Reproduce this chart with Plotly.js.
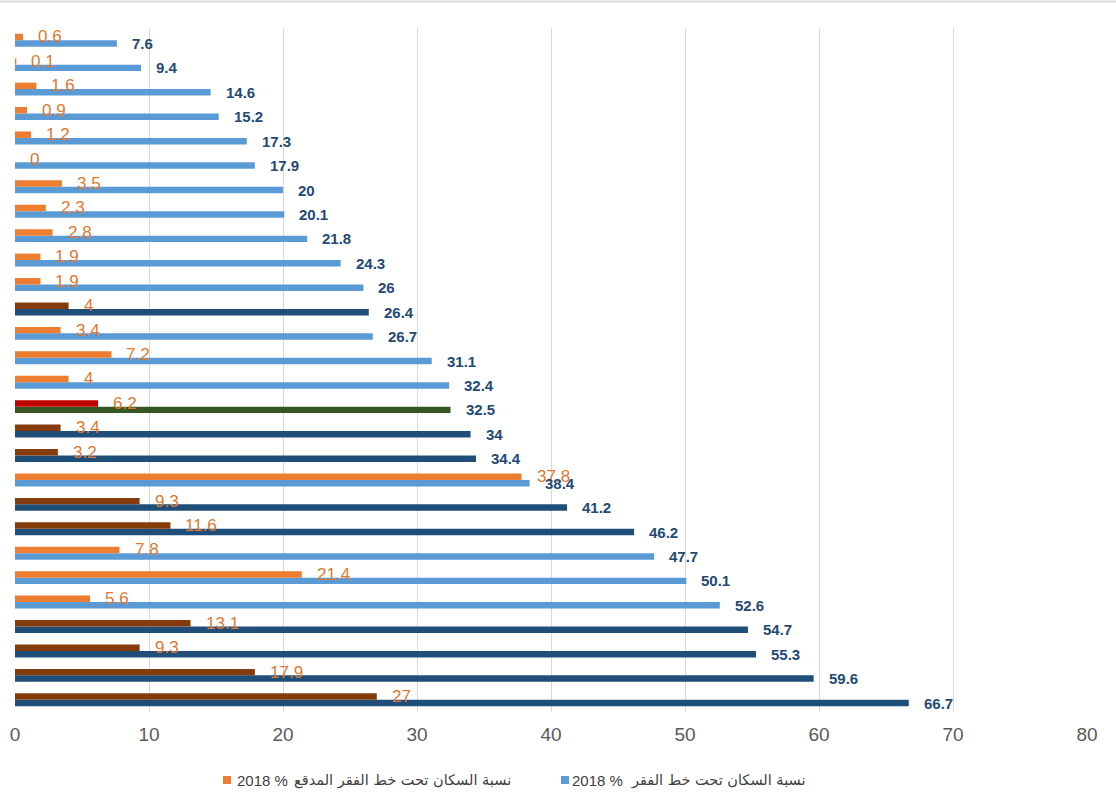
<!DOCTYPE html>
<html>
<head>
<meta charset="utf-8">
<script src="https://cdn.plot.ly/plotly-3.0.1.min.js"></script>
<style>html,body{margin:0;padding:0;background:#fff}</style>
</head>
<body>
<div id="chart" style="width:1116px;height:811px"></div>
<script>
// Rows listed from top of the chart to bottom (no row labels are shown in the chart)
const rowIds = ['r1','r2','r3','r4','r5','r6','r7','r8','r9','r10','r11','r12','r13','r14',
                'r15','r16','r17','r18','r19','r20','r21','r22','r23','r24','r25','r26','r27','r28'];
// % of population below the poverty line, 2018
const povertyValues = [7.6, 9.4, 14.6, 15.2, 17.3, 17.9, 20, 20.1, 21.8, 24.3, 26, 26.4, 26.7, 31.1,
                       32.4, 32.5, 34, 34.4, 38.4, 41.2, 46.2, 47.7, 50.1, 52.6, 54.7, 55.3, 59.6, 66.7];
// % of population below the extreme poverty line, 2018
const extremeValues = [0.6, 0.1, 1.6, 0.9, 1.2, 0, 3.5, 2.3, 2.8, 1.9, 1.9, 4, 3.4, 7.2,
                       4, 6.2, 3.4, 3.2, 37.8, 9.3, 11.6, 7.8, 21.4, 5.6, 13.1, 9.3, 17.9, 27];
// row group used for bar shading: 'a' normal, 'b' dark, 'c' highlighted
const rowGroup = ['a','a','a','a','a','a','a','a','a','a','a','b','a','a',
                  'a','c','b','b','a','b','b','a','a','a','b','b','b','b'];
const xTicks = [0, 10, 20, 30, 40, 50, 60, 70, 80];
const legendNumber = '2018 %';
const povertyName = 'نسبة السكان تحت خط الفقر';
const extremeName = 'نسبة السكان تحت خط الفقر المدقع';

const n = rowIds.length;
const yPos = rowIds.map((_, i) => n - 1 - i);

const blueColors = {a: '#5B9BD5', b: '#1F4E79', c: '#375623'};
const orangeColors = {a: '#ED7D31', b: '#843C0C', c: '#C00000'};

const bargap = 0.47;
const half = (1 - bargap) / 4;

const L = 15, R = 1087, T = 28, B = 712;
const px = v => (v - L) / (R - L);
const py = v => (B - v) / (B - T);

const traces = [
  {type: 'bar', orientation: 'h', y: yPos, x: povertyValues, name: povertyName,
   marker: {color: rowGroup.map(g => blueColors[g])}, hoverinfo: 'x', showlegend: false},
  {type: 'bar', orientation: 'h', y: yPos, x: extremeValues, name: extremeName,
   marker: {color: rowGroup.map(g => orangeColors[g])}, hoverinfo: 'x', showlegend: false}
];

const annotations = [];
yPos.forEach((y, i) => {
  annotations.push({x: extremeValues[i], y: y + half, xref: 'x', yref: 'y', text: String(extremeValues[i]),
    showarrow: false, xanchor: 'left', yanchor: 'middle', xshift: 13,
    font: {family: 'Liberation Sans, Arial, sans-serif', size: 17, color: '#E0782F'}});
  annotations.push({x: povertyValues[i], y: y - half, xref: 'x', yref: 'y', text: '<b>' + povertyValues[i] + '</b>',
    showarrow: false, xanchor: 'left', yanchor: 'middle', xshift: 13,
    font: {family: 'Liberation Sans, Arial, sans-serif', size: 15, color: '#244A74'}});
});

// manual legend (marker left of text)
const legY = py(780);
const legFontNum = {family: 'Liberation Sans, Arial, sans-serif', size: 15, color: '#404040'};
const legFontAr = {family: 'DejaVu Sans, sans-serif', size: 14.5, color: '#404040'};
annotations.push({xref: 'paper', yref: 'paper', x: px(235), y: legY, text: legendNumber, showarrow: false,
  xanchor: 'left', yanchor: 'middle', font: legFontNum});
annotations.push({xref: 'paper', yref: 'paper', x: px(292), y: legY, text: extremeName, showarrow: false,
  xanchor: 'left', yanchor: 'middle', font: legFontAr});
annotations.push({xref: 'paper', yref: 'paper', x: px(570), y: legY, text: legendNumber, showarrow: false,
  xanchor: 'left', yanchor: 'middle', font: legFontNum});
annotations.push({xref: 'paper', yref: 'paper', x: px(808), y: legY, text: povertyName, showarrow: false,
  xanchor: 'right', yanchor: 'middle', font: legFontAr});

const shapes = [
  {type: 'line', xref: 'paper', yref: 'paper', x0: px(0), x1: px(1116), y0: py(1.5), y1: py(1.5),
   line: {color: '#D9D9D9', width: 2}},
  {type: 'rect', xref: 'paper', yref: 'paper', x0: px(223), x1: px(231), y0: py(776), y1: py(784),
   fillcolor: '#ED7D31', line: {width: 0}},
  {type: 'rect', xref: 'paper', yref: 'paper', x0: px(561), x1: px(569), y0: py(776), y1: py(784),
   fillcolor: '#5B9BD5', line: {width: 0}}
];

const layout = {
  width: 1116, height: 811,
  margin: {l: L, r: 1116 - R, t: T, b: 811 - B, pad: 0},
  paper_bgcolor: '#fff', plot_bgcolor: '#fff',
  barmode: 'group', bargap: bargap, bargroupgap: 0,
  showlegend: false,
  xaxis: {range: [0, 80], tickvals: xTicks, ticktext: xTicks.map(String), showgrid: true,
          gridcolor: '#D9D9D9', gridwidth: 1, zeroline: false, showline: false, ticks: '',
          ticklabelstandoff: 9,
          tickfont: {family: 'Liberation Sans, Arial, sans-serif', size: 19, color: '#595959'},
          fixedrange: true},
  yaxis: {range: [-0.5, n - 0.5], showticklabels: false, showgrid: false, zeroline: false,
          showline: false, ticks: '', fixedrange: true},
  annotations: annotations,
  shapes: shapes
};

Plotly.newPlot('chart', traces, layout, {displayModeBar: false, staticPlot: true});
</script>
</body>
</html>
